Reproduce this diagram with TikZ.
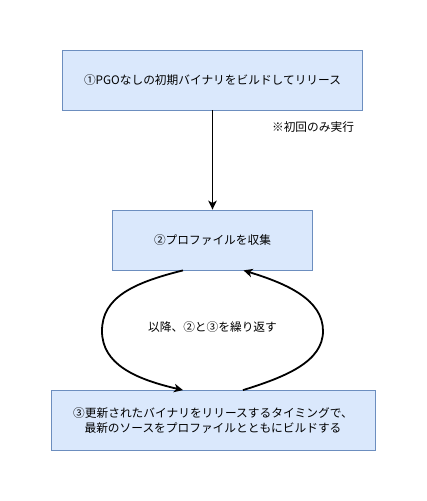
\documentclass[tikz,border=0pt]{standalone}
\usepackage{fontspec}
\setmainfont{Noto Sans CJK JP}
\usetikzlibrary{arrows.meta}
\definecolor{boxfill}{HTML}{DAE8FC}
\definecolor{boxline}{HTML}{6C8EBF}
\begin{document}
\begin{tikzpicture}[x=1pt,y=-1pt,
  stepbox/.style={draw=boxline,fill=boxfill,line width=0.8pt,minimum height=60pt,inner sep=0pt,align=center,
    font=\fontsize{11.7}{14.5}\selectfont},
  link/.style={line width=1.8pt,-{Stealth[length=9pt,width=8.5pt,inset=2.5pt]}},
  note/.style={font=\fontsize{11.7}{14.5}\selectfont,inner sep=0pt}]
\useasboundingbox (0,0) rectangle (426,501);
\node[stepbox,minimum width=300pt] (b1) at (212.5,80) {①PGOなしの初期バイナリをビルドしてリリース};
\node[stepbox,minimum width=200pt] (b2) at (212.5,240) {②プロファイルを収集};
\node[stepbox,minimum width=324pt] (b3) at (213,420.5) {③更新されたバイナリをリリースするタイミングで、\\最新のソースをプロファイルとともにビルドする};
\node[note] (n1) at (313,127) {※初回のみ実行};
\node[note] (n2) at (212.5,327) {以降、②と③を繰り返す};
\draw[link] (b1.south) -- (b2.north);
\draw[link] ([xshift=-29.5pt]b2.south) .. controls (132,283) and (102,298) .. (102,331)
  .. controls (102,364) and (135,379) .. ([xshift=-30pt]b3.north);
\draw[link] ([xshift=30pt]b3.north) .. controls (285,377) and (323,362) .. (323,331)
  .. controls (323,300) and (288,284) .. ([xshift=31pt]b2.south);
\end{tikzpicture}
\end{document}
